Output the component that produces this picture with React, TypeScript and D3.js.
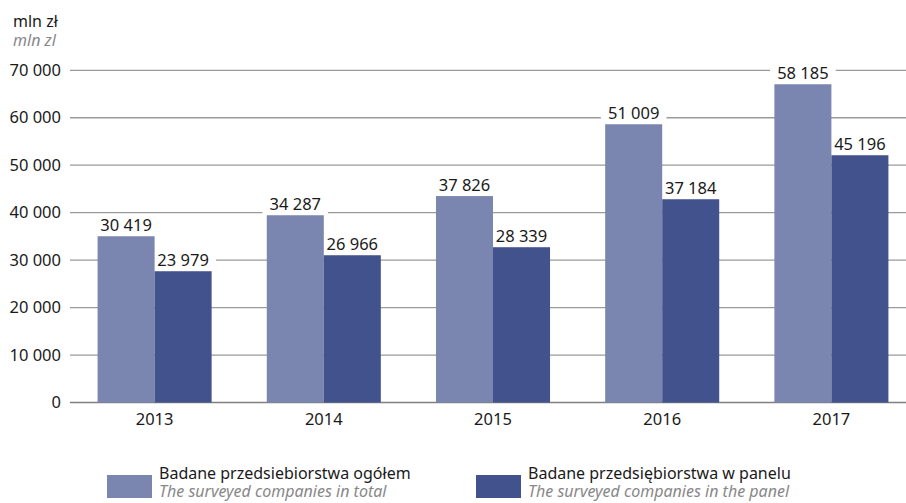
import React from "react";
import * as d3 from "d3";

const years = ["2013", "2014", "2015", "2016", "2017"];
// printed value labels
const totalLabels = ["30 419", "34 287", "37 826", "51 009", "58 185"];
const panelLabels = ["23 979", "26 966", "28 339", "37 184", "45 196"];
// bar heights as drawn in the reference (mln zł)
const totalBars = [35030, 39460, 43500, 58630, 67060];
const panelBars = [27660, 31030, 32720, 42830, 52100];
const yTicks = [0, 10000, 20000, 30000, 40000, 50000, 60000, 70000];
const seriesNames = [
  { pl: "Badane przedsiebiorstwa ogółem", en: "The surveyed companies in total" },
  { pl: "Badane przedsiębiorstwa w panelu", en: "The surveyed companies in the panel" },
];

const W = 906;
const H = 503;
const LIGHT = "#7a86b0";
const DARK = "#42528c";
const FONT = "'Noto Sans', sans-serif";

const fmt = (v: number) => (v === 0 ? "0" : d3.format(",")(v).replace(/,/g, " "));

export default function App() {
  const x = d3.scaleBand<string>().domain(years).range([70, 916]).padding(0);
  const y = d3.scaleLinear().domain([0, 70000]).range([402.5, 70.3]);
  const bw = x.bandwidth();
  const barW = bw * 0.337;

  const labels: { cx: number; top: number; text: string; key: string }[] = [];
  years.forEach((yr, i) => {
    const cx = (x(yr) as number) + bw / 2;
    labels.push({ cx: cx - barW / 2, top: y(totalBars[i]), text: totalLabels[i], key: "t" + yr });
    labels.push({ cx: cx + barW / 2, top: y(panelBars[i]), text: panelLabels[i], key: "p" + yr });
  });

  return (
    <div style={{ position: "absolute", left: 0, top: 0, width: W, height: H }}>
      <svg width={W} height={H} style={{ display: "block", fontFamily: FONT }}>
        <rect width={W} height={H} fill="#fff" />
        <text x={13} y={27} fontSize={16} fill="#1a1a1a">mln zł</text>
        <text x={13} y={46} fontSize={16} fill="#888" fontStyle="italic">mln zl</text>
        {yTicks.map((t) => (
          <g key={t}>
            <line
              x1={70}
              x2={W}
              y1={y(t)}
              y2={y(t)}
              stroke={t === 0 ? "#7f7f7f" : "#9a9a9a"}
              strokeWidth={1.3}
            />
            <text x={61} y={y(t) + 5.5} textAnchor="end" fontSize={16.5} fill="#1a1a1a">
              {fmt(t)}
            </text>
          </g>
        ))}
        {labels.map((l) => {
          const tw = l.text.length * 8.6;
          const base = l.top - 5;
          return <rect key={"b" + l.key} x={l.cx - tw / 2 - 7} y={base - 15} width={tw + 14} height={19} fill="#fff" />;
        })}
        {years.map((yr, i) => {
          const cx = (x(yr) as number) + bw / 2;
          return (
            <g key={yr}>
              <rect x={cx - barW} y={y(totalBars[i])} width={barW} height={y(0) - y(totalBars[i])} fill={LIGHT} />
              <rect x={cx} y={y(panelBars[i])} width={barW} height={y(0) - y(panelBars[i])} fill={DARK} />
              <text x={cx} y={425} textAnchor="middle" fontSize={16.5} fill="#1a1a1a">
                {yr}
              </text>
            </g>
          );
        })}
        {labels.map((l) => (
          <text key={l.key} x={l.cx} y={l.top - 5} textAnchor="middle" fontSize={16.5} fill="#1a1a1a">
            {l.text}
          </text>
        ))}
        {seriesNames.map((s, i) => {
          const sx = i === 0 ? 107 : 476;
          return (
            <g key={s.pl}>
              <rect x={sx} y={475} width={45} height={23} fill={i === 0 ? LIGHT : DARK} />
              <text x={sx + 52} y={479} fontSize={16} fill="#1a1a1a">{s.pl}</text>
              <text x={sx + 52} y={497} fontSize={16} fill="#888" fontStyle="italic">{s.en}</text>
            </g>
          );
        })}
      </svg>
    </div>
  );
}
